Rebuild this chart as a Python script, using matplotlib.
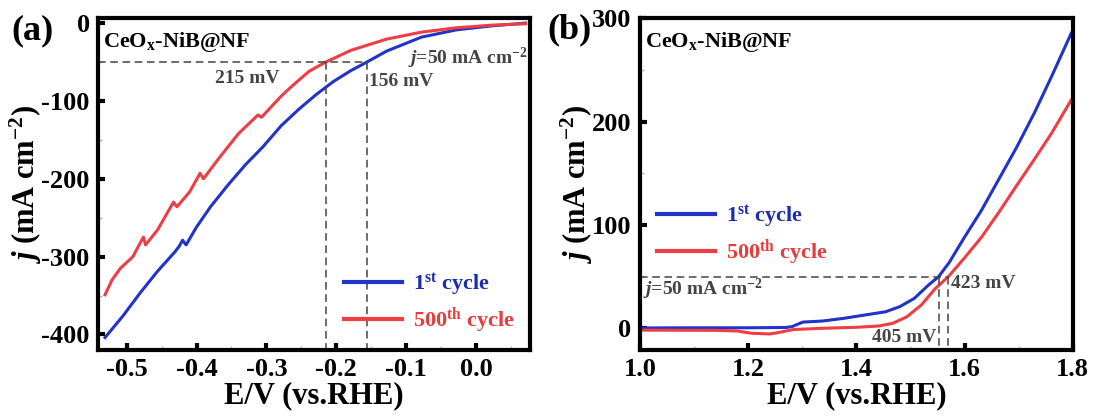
import numpy as np
import matplotlib
matplotlib.use('Agg')
import matplotlib.pyplot as plt
from matplotlib.ticker import MultipleLocator, FormatStrFormatter

plt.rcParams['font.family'] = 'Liberation Serif'
plt.rcParams['font.weight'] = 'bold'
plt.rcParams['mathtext.fontset'] = 'custom'
plt.rcParams['mathtext.rm'] = 'Liberation Serif:bold'
plt.rcParams['mathtext.it'] = 'Liberation Serif:italic:bold'
plt.rcParams['mathtext.bf'] = 'Liberation Serif:bold'
plt.rcParams['axes.unicode_minus'] = False

BLUE = '#2233c8'
RED = '#ee3e44'
BLUE_TXT = '#1a2cb4'
RED_TXT = '#e83c3c'
GREY = '#444444'

# HER polarization (a)
her_E_1st = [-0.531, -0.506, -0.481, -0.456, -0.431, -0.425, -0.420, -0.415, -0.400, -0.380,
             -0.355, -0.330, -0.305, -0.279, -0.254, -0.229, -0.204, -0.179, -0.156, -0.128,
             -0.078, -0.028, 0.023, 0.071]
her_j_1st = [-404, -377, -347, -319, -294, -287, -279, -285, -262, -236,
             -208, -182, -159, -132, -111, -92, -75, -61, -50, -36,
             -18, -8.7, -3.5, 0]
her_E_500 = [-0.531, -0.521, -0.509, -0.491, -0.481, -0.476, -0.473, -0.456, -0.433, -0.428,
             -0.410, -0.395, -0.390, -0.370, -0.340, -0.312, -0.307, -0.279, -0.264, -0.239,
             -0.215, -0.179, -0.128, -0.078, -0.028, 0.023, 0.071]
her_j_500 = [-349, -330, -315, -300, -283, -275, -285, -266, -230, -236,
             -217, -193, -200, -176, -142, -118, -121, -94, -81.5, -62,
             -50, -35, -20.6, -11.6, -6, -2.6, -0.9]
her_eta = [0.215, 0.156]   # overpotentials at 50 mA cm-2

# OER polarization (b)
oer_E_1st = [1.000, 1.100, 1.200, 1.270, 1.281, 1.301, 1.337, 1.376, 1.415, 1.454,
             1.480, 1.507, 1.533, 1.552, 1.572, 1.598, 1.631, 1.663, 1.696, 1.729,
             1.761, 1.797]
oer_j_1st = [0.3, 0.5, 0.5, 0.8, 1.6, 6.0, 7.0, 9.6, 12.8, 16,
             20.9, 28.9, 41.7, 50, 64, 86.6, 114, 144, 175, 208.5,
             244, 285.5]
oer_E_500 = [1.000, 1.140, 1.180, 1.206, 1.239, 1.252, 1.284, 1.337, 1.402, 1.441,
             1.467, 1.493, 1.520, 1.546, 1.570, 1.598, 1.631, 1.663, 1.696, 1.729,
             1.761, 1.797]
oer_j_500 = [-1.8, -2, -2.6, -4.8, -5.5, -4.5, -1.2, 0, 1, 2.2,
             4.8, 11, 22.5, 38.5, 50, 67, 88, 112, 138, 163.6,
             189, 221]
oer_E_ref = 1.147
oer_eta = [0.405, 0.423]

labels = [r'1$^\mathregular{st}$ cycle', r'500$^\mathregular{th}$ cycle']

fig = plt.figure(figsize=(10.93, 4.16), dpi=100)
ax1 = fig.add_axes([0.0897, 0.1587, 0.395, 0.797])
ax2 = fig.add_axes([0.5855, 0.1587, 0.396, 0.797])


def style_axes(ax):
    for s in ax.spines.values():
        s.set_linewidth(3)
    ax.tick_params(which='major', direction='in', length=5, width=3,
                   labelsize=19, top=False, right=False, pad=6)
    ax.tick_params(which='minor', direction='in', length=3, width=1,
                   color='0.7', top=False, right=False)
    ax.set_xlabel('E/V (vs.RHE)', fontsize=22, fontweight='bold', labelpad=0)
    ax.set_ylabel('$j$ (mA cm$^{-2}$)', fontsize=22, fontweight='bold', labelpad=-2)
    ax.text(0.012, 0.93, r'CeO$_\mathregular{x}$-NiB@NF', transform=ax.transAxes,
            fontsize=16, fontweight='bold', va='center', ha='left')


def add_legend(ax, anchor):
    leg = ax.legend(loc='lower left', bbox_to_anchor=anchor, frameon=False,
                    fontsize=16, handlelength=2.6, handletextpad=0.5, labelspacing=0.35,
                    borderpad=0, borderaxespad=0)
    for ln in leg.get_lines():
        ln.set_linewidth(3)
    for t, c in zip(leg.get_texts(), [BLUE_TXT, RED_TXT]):
        t.set_color(c)


# (a)
ax1.plot(her_E_1st, her_j_1st, color=BLUE, lw=2.2, label=labels[0])
ax1.plot(her_E_500, her_j_500, color=RED, lw=2.2, label=labels[1])
ax1.set_xlim(-0.541, 0.077)
ax1.set_ylim(-420, 6)
ax1.xaxis.set_major_locator(MultipleLocator(0.1))
ax1.xaxis.set_minor_locator(MultipleLocator(0.05))
ax1.yaxis.set_major_locator(MultipleLocator(100))
ax1.yaxis.set_minor_locator(MultipleLocator(50))
ax1.xaxis.set_major_formatter(FormatStrFormatter('%.1f'))
style_axes(ax1)
x_near = -min(her_eta)
ax1.plot([-0.541, x_near], [-50, -50], color=GREY, lw=1.1, dashes=(5, 3))
for x in her_eta:
    ax1.plot([-x, -x], [-50, -420], color=GREY, lw=1.1, dashes=(5, 3))
ax1.text(-0.327, -71, '%d mV' % round(her_eta[0] * 1000), color=GREY, fontsize=14,
         ha='center', va='center')
ax1.text(-0.153, -75, '%d mV' % round(her_eta[1] * 1000), color=GREY, fontsize=14,
         ha='left', va='center')
ax1.text(0.074, -46, '$j$=50 mA cm$^{-2}$', color=GREY, fontsize=14, ha='right', va='center')
add_legend(ax1, (0.57, 0.045))

# (b)
ax2.plot(oer_E_1st, oer_j_1st, color=BLUE, lw=2.2, label=labels[0])
ax2.plot(oer_E_500, oer_j_500, color=RED, lw=2.2, label=labels[1])
ax2.set_xlim(1.0, 1.8)
ax2.set_ylim(-21, 300)
ax2.xaxis.set_major_locator(MultipleLocator(0.2))
ax2.xaxis.set_minor_locator(MultipleLocator(0.1))
ax2.yaxis.set_major_locator(MultipleLocator(100))
ax2.yaxis.set_minor_locator(MultipleLocator(50))
ax2.xaxis.set_major_formatter(FormatStrFormatter('%.1f'))
style_axes(ax2)
e_lines = [oer_E_ref + e for e in oer_eta]
ax2.plot([1.0, max(e_lines)], [50, 50], color=GREY, lw=1.1, dashes=(5, 3))
for x in e_lines:
    ax2.plot([x, x], [50, -21], color=GREY, lw=1.1, dashes=(5, 3))
ax2.text(1.005, 38, '$j$=50 mA cm$^{-2}$', color=GREY, fontsize=14, ha='left', va='center')
ax2.text(e_lines[1] + 0.004, 43, '%d mV' % round(oer_eta[1] * 1000), color=GREY,
         fontsize=14, ha='left', va='center')
ax2.text(e_lines[0] - 0.004, -9, '%d mV' % round(oer_eta[0] * 1000), color=GREY,
         fontsize=14, ha='right', va='center')
add_legend(ax2, (0.04, 0.25))

fig.text(0.010, 0.925, '(a)', fontsize=26, fontweight='bold', va='center', ha='left')
fig.text(0.501, 0.928, '(b)', fontsize=26, fontweight='bold', va='center', ha='left')

fig.savefig('out.png', dpi=100)
